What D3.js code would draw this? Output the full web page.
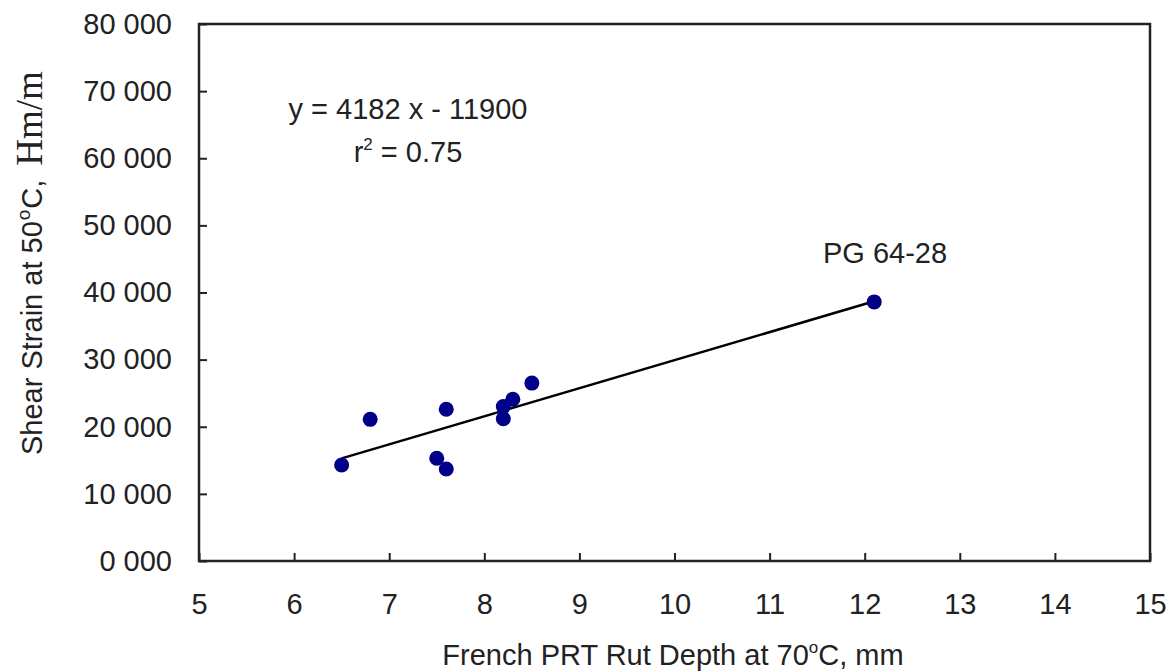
<!DOCTYPE html>
<html>
<head>
<meta charset="utf-8">
<script src="https://cdn.jsdelivr.net/npm/d3@7"></script>
<style>
  html, body { margin: 0; padding: 0; background: #fff; }
  svg { display: block; font-family: "Liberation Sans", Arial, sans-serif; }
</style>
</head>
<body>
<svg id="chart" width="1173" height="671"></svg>
<script>
// rut depth (mm) and shear strain values
const rutDepth = [6.5, 6.8, 7.5, 7.6, 7.6, 8.2, 8.2, 8.3, 8.5, 12.1];
const shearStrain = [14300, 21100, 15300, 13700, 22600, 21200, 23000, 24100, 26500, 38600];

const xTicks = [5, 6, 7, 8, 9, 10, 11, 12, 13, 14, 15];
const yTicks = [0, 10000, 20000, 30000, 40000, 50000, 60000, 70000, 80000];

// fitted trend: y = 4182 x - 11900
const slope = 4182;
const intercept = -11900;
const fitRange = [6.5, 12.1];

const width = 1173, height = 671;
const margin = { left: 199, right: 23, top: 24, bottom: 110 };

const svg = d3.select('#chart');

const x = d3.scaleLinear()
  .domain([5, 15])
  .range([margin.left, width - margin.right]);

const y = d3.scaleLinear()
  .domain([0, 80000])
  .range([height - margin.bottom, margin.top]);

const fontSize = 29;
const textColor = '#222';

// x axis (ticks pointing inward)
const xAxis = svg.append('g')
  .attr('transform', `translate(0,${y(0)})`)
  .call(d3.axisBottom(x).tickValues(xTicks).tickSizeInner(-8).tickSizeOuter(0).tickPadding(32).tickFormat(d3.format('d')));
xAxis.select('.domain').remove();
xAxis.selectAll('.tick line').attr('stroke', '#222').attr('stroke-width', 2);
xAxis.selectAll('.tick text')
  .attr('font-size', fontSize)
  .attr('font-family', '"Liberation Sans", Arial, sans-serif')
  .attr('fill', textColor);

// y axis
const yAxis = svg.append('g')
  .attr('transform', `translate(${x(5)},0)`)
  .call(d3.axisLeft(y).tickValues(yTicks).tickSizeInner(-8).tickSizeOuter(0).tickPadding(27)
    .tickFormat(v => Math.floor(v / 1000) + ' 000'));
yAxis.select('.domain').remove();
yAxis.selectAll('.tick line').attr('stroke', '#222').attr('stroke-width', 2);
yAxis.selectAll('.tick text')
  .attr('font-size', fontSize)
  .attr('font-family', '"Liberation Sans", Arial, sans-serif')
  .attr('fill', textColor);

// plot frame
svg.append('rect')
  .attr('x', x(5))
  .attr('y', y(80000))
  .attr('width', x(15) - x(5))
  .attr('height', y(0) - y(80000))
  .attr('fill', 'none')
  .attr('stroke', '#222')
  .attr('stroke-width', 2.5);

// trend line
svg.append('line')
  .attr('x1', x(fitRange[0]))
  .attr('y1', y(slope * fitRange[0] + intercept))
  .attr('x2', x(fitRange[1]))
  .attr('y2', y(slope * fitRange[1] + intercept))
  .attr('stroke', '#000')
  .attr('stroke-width', 2.5);

// data points
svg.append('g')
  .selectAll('circle')
  .data(rutDepth.map((d, i) => [d, shearStrain[i]]))
  .join('circle')
  .attr('cx', d => x(d[0]))
  .attr('cy', d => y(d[1]))
  .attr('r', 7.5)
  .attr('fill', '#000088');

// equation
svg.append('text')
  .attr('x', 408)
  .attr('y', 119)
  .attr('text-anchor', 'middle')
  .attr('font-size', fontSize)
  .attr('fill', textColor)
  .text('y = 4182 x - 11900');

const r2 = svg.append('text')
  .attr('x', 408)
  .attr('y', 162)
  .attr('text-anchor', 'middle')
  .attr('font-size', fontSize)
  .attr('fill', textColor);
r2.append('tspan').text('r');
r2.append('tspan').attr('dy', -12).attr('font-size', 17).text('2');
r2.append('tspan').attr('dy', 12).text(' = 0.75');

// point label
svg.append('text')
  .attr('x', 885)
  .attr('y', 263)
  .attr('text-anchor', 'middle')
  .attr('font-size', fontSize)
  .attr('fill', textColor)
  .text('PG 64-28');

// x title
const xt = svg.append('text')
  .attr('x', 673)
  .attr('y', 665)
  .attr('text-anchor', 'middle')
  .attr('font-size', fontSize)
  .attr('fill', textColor);
xt.append('tspan').text('French PRT Rut Depth at 70');
xt.append('tspan').attr('dy', -12).attr('font-size', 17).text('o');
xt.append('tspan').attr('dy', 12).text('C, mm');

// y title
const yt = svg.append('text')
  .attr('transform', 'translate(42,455) rotate(-90)')
  .attr('text-anchor', 'start')
  .attr('font-size', fontSize)
  .attr('fill', textColor);
yt.append('tspan').text('Shear Strain at 50');
yt.append('tspan').attr('dy', -12).attr('dx', 1).attr('font-size', 19).text('o');
yt.append('tspan').attr('dy', 12).attr('dx', 1).text('C,');
yt.append('tspan')
  .attr('dx', 14)
  .attr('font-family', '"Liberation Serif", "Times New Roman", serif')
  .attr('font-size', 37)
  .text('Hm/m');
</script>
</body>
</html>
